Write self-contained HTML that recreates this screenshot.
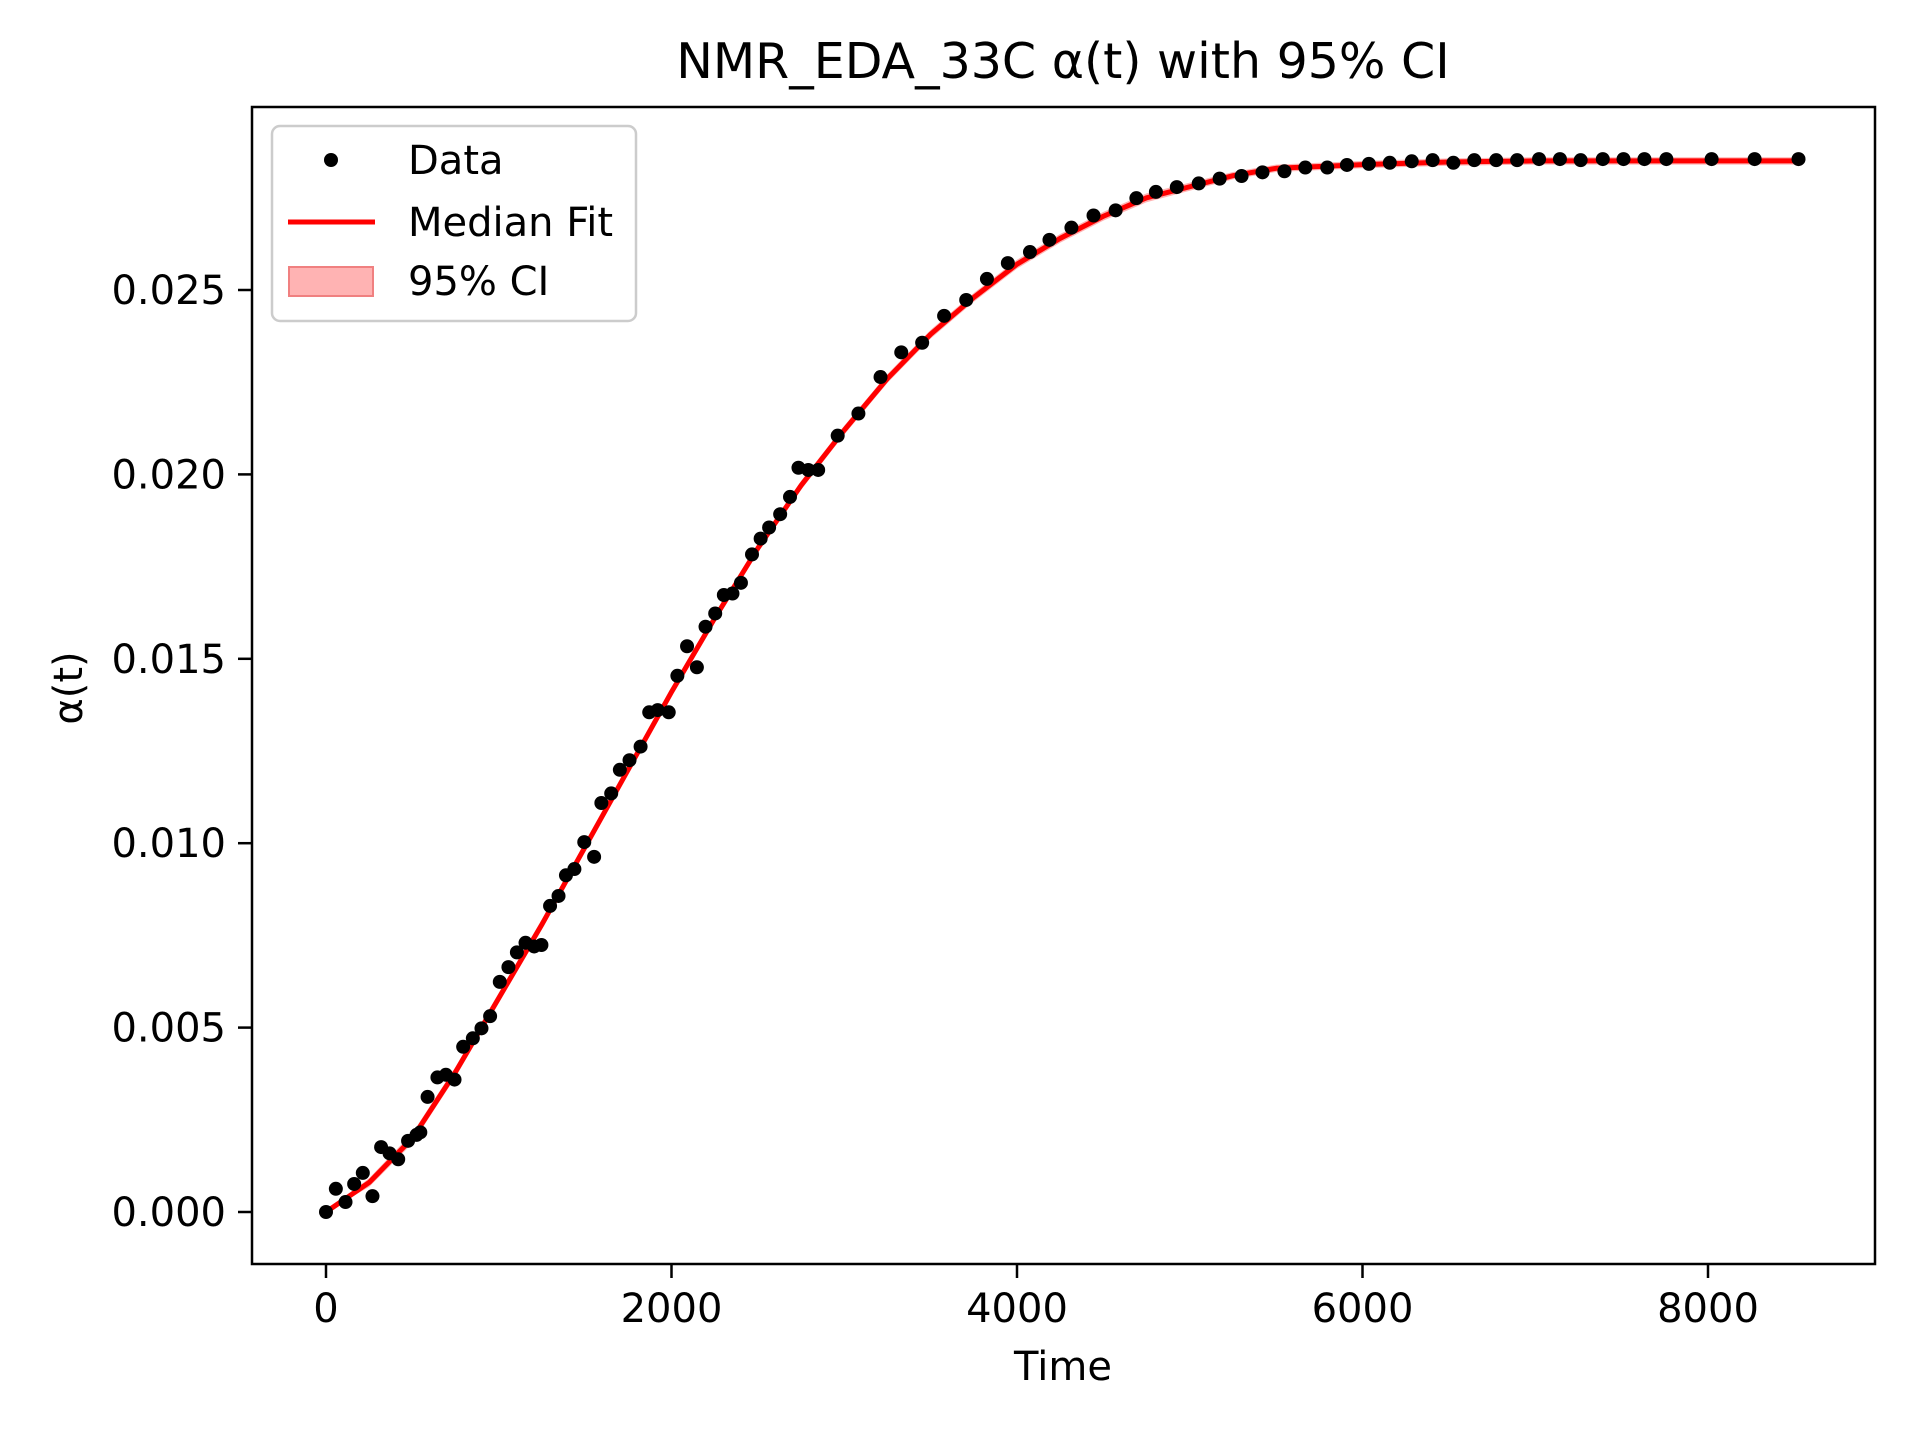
<!DOCTYPE html>
<html><head><meta charset="utf-8"><style>
body{margin:0;background:#fff;}
svg{display:block;font-family:"DejaVu Sans","Liberation Sans",sans-serif;}
</style></head><body>
<svg id="chart" width="1920" height="1440">
<rect width="1920" height="1440" fill="#fff"/>
<text x="1063" y="78" font-size="49" text-anchor="middle">NMR_EDA_33C α(t) with 95% CI</text>
<g id="plot"></g>
<rect x="252" y="107" width="1623" height="1157" fill="none" stroke="#000" stroke-width="2.5"/>
<g id="xt"></g>
<g id="yt"></g>
<text x="1063" y="1380" font-size="40" text-anchor="middle">Time</text>
<text transform="translate(82,688) rotate(-90)" font-size="40" text-anchor="middle">α(t)</text>
<g>
<rect x="272" y="126" width="364" height="195" rx="8" fill="#fff" fill-opacity="0.8" stroke="#ccc" stroke-width="2.5"/>
<circle cx="331" cy="160" r="7" fill="#000"/>
<text x="408" y="174" font-size="40">Data</text>
<line x1="288" y1="222" x2="375" y2="222" stroke="#f00" stroke-width="5"/>
<text x="408" y="236" font-size="40">Median Fit</text>
<rect x="289" y="267" width="84" height="29" fill="#ffb3b3" stroke="#f08080" stroke-width="2"/>
<text x="408" y="295" font-size="40">95% CI</text>
</g>
</svg>
<script>
const times=[0,57,113,163,213,269,319,368,418,475,524,546,588,645,694,744,794,850,900,950,1006,1056,1105,1155,1205,1247,1297,1346,1389,1438,1495,1552,1594,1651,1701,1757,1821,1871,1920,1984,2034,2090,2147,2197,2253,2303,2353,2402,2466,2516,2565,2629,2686,2735,2792,2849,2962,3082,3210,3330,3451,3578,3706,3826,3947,4075,4188,4315,4443,4571,4691,4804,4925,5052,5173,5300,5421,5548,5669,5796,5910,6037,6158,6285,6406,6526,6647,6774,6895,7022,7143,7263,7391,7511,7632,7759,8021,8270,8524];
const alphas=[0,0.00063,0.00027,0.00076,0.00106,0.00043,0.00176,0.00159,0.00143,0.00193,0.00209,0.00216,0.00312,0.00365,0.00372,0.00359,0.00448,0.00471,0.00498,0.00531,0.00624,0.00664,0.00704,0.0073,0.0072,0.00724,0.0083,0.00857,0.00913,0.0093,0.01003,0.00963,0.01109,0.01135,0.01199,0.01225,0.01262,0.01355,0.01361,0.01355,0.01454,0.01534,0.01477,0.01587,0.01623,0.01673,0.01677,0.01706,0.01783,0.01826,0.01856,0.01892,0.01939,0.02018,0.02012,0.02012,0.02105,0.02165,0.02264,0.02331,0.02357,0.0243,0.02473,0.0253,0.02573,0.02603,0.02636,0.02669,0.02702,0.02716,0.02749,0.02766,0.02779,0.02789,0.02802,0.02809,0.02819,0.02822,0.02832,0.02832,0.02839,0.02842,0.02845,0.02849,0.02852,0.02845,0.02852,0.02852,0.02852,0.02855,0.02855,0.02852,0.02855,0.02855,0.02855,0.02855,0.02855,0.02855,0.02855];
const fitTimes=[0,250,500,750,1000,1250,1500,1750,2000,2250,2500,2750,3000,3250,3500,3750,4000,4250,4500,4750,5000,5250,5500,5750,6000,6500,7000,7500,8000,8524];
const fitMedian=[0,0.0008,0.0020,0.0038,0.0058,0.0078,0.0099,0.0120,0.0141,0.0161,0.0180,0.0197,0.0212,0.0226,0.0238,0.0248,0.0257,0.0264,0.0270,0.0275,0.0278,0.0281,0.0283,0.02835,0.0284,0.02847,0.0285,0.0285,0.0285,0.0285];
const ciHalf=[0,0.00012,0.00014,0.00014,0.00014,0.00014,0.00013,0.00012,0.00012,0.00012,0.00012,0.00012,0.00012,0.00012,0.00012,0.00012,0.00012,0.00012,0.00012,0.00012,0.00011,0.0001,0.0001,0.0001,0.0001,0.0001,0.0001,0.0001,0.0001,0.0001];
const xTicks=[0,2000,4000,6000,8000];
const yTicks=[0,0.005,0.010,0.015,0.020,0.025];
const yTickLabels=["0.000","0.005","0.010","0.015","0.020","0.025"];

const NS="http://www.w3.org/2000/svg";
const X=t=>326+t*0.17275;
const Y=a=>1212-a*36880;
function mk(tag,attrs,parent){const e=document.createElementNS(NS,tag);for(const k in attrs)e.setAttribute(k,attrs[k]);parent.appendChild(e);return e;}
const plotG=document.getElementById('plot');
const upperPts=fitTimes.map((t,i)=>X(t)+','+Y(fitMedian[i]+ciHalf[i]));
const lowerPts=fitTimes.map((t,i)=>X(t)+','+Y(fitMedian[i]-ciHalf[i])).reverse();
const band=mk('polygon',{points:upperPts.concat(lowerPts).join(' '),fill:'#ff0000','fill-opacity':0.3,stroke:'none'},plotG);


const fitLine=mk('polyline',{points:fitTimes.map((t,i)=>X(t)+','+Y(fitMedian[i])).join(' '),fill:'none',stroke:'#f00','stroke-width':5,'stroke-linejoin':'round'},plotG);


times.forEach((t,i)=>{
  const c=mk('circle',{cx:X(t),cy:Y(alphas[i]),r:7,fill:'#000'},plotG);
  
  
});
const xtG=document.getElementById('xt');
xTicks.forEach(v=>{
  const l=mk('line',{x1:X(v),x2:X(v),y1:1264,y2:1278,stroke:'#000','stroke-width':2.5},xtG);
  
  
  const tx=mk('text',{x:X(v),y:1322,'font-size':40,'text-anchor':'middle'},xtG);
  tx.textContent=v;
  
  
});
const ytG=document.getElementById('yt');
yTicks.forEach((v,i)=>{
  const l=mk('line',{x1:238,x2:252,y1:Y(v),y2:Y(v),stroke:'#000','stroke-width':2.5},ytG);
  
  
  const tx=mk('text',{x:226,y:Y(v)+14,'font-size':40,'text-anchor':'end'},ytG);
  tx.textContent=yTickLabels[i];
  
  
});
</script>
</body></html>
